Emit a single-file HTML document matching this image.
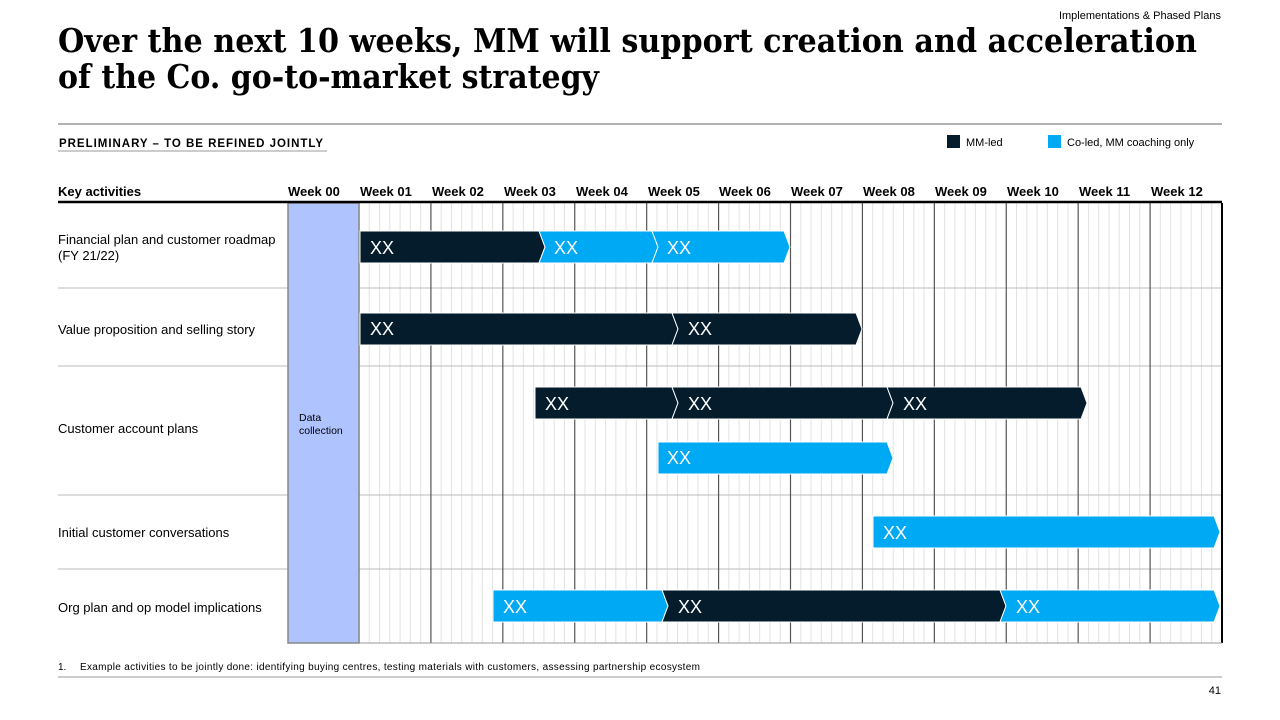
<!DOCTYPE html>
<html><head><meta charset="utf-8"><style>
html,body{margin:0;padding:0;background:#fff;width:1280px;height:720px;overflow:hidden}
svg{display:block}
.s{font-family:"Liberation Sans",Arial,sans-serif}
.t{font-family:"DejaVu Serif","Liberation Serif",serif;font-weight:bold;font-size:33px;fill:#000}
.wk{font-family:"Liberation Sans",Arial,sans-serif;font-weight:bold;font-size:13px;fill:#000}
.lb{font-family:"Liberation Sans",Arial,sans-serif;font-size:13px;fill:#000}
.xx{font-family:"Liberation Sans",Arial,sans-serif;font-size:18px;fill:#fff}
</style></head><body>
<svg id="c" width="1280" height="720" viewBox="0 0 1280 720" xmlns="http://www.w3.org/2000/svg">
<text x="1221" y="19" text-anchor="end" class="s" font-size="11">Implementations &amp; Phased Plans</text>
<text x="58" y="52" class="t" textLength="1139" lengthAdjust="spacingAndGlyphs">Over the next 10 weeks, MM will support creation and acceleration</text>
<text x="58" y="88" class="t" textLength="541" lengthAdjust="spacingAndGlyphs">of the Co. go-to-market strategy</text>
<line x1="58" y1="124" x2="1222" y2="124" stroke="#999" stroke-width="1.5"/>
<text x="59" y="147" class="s" font-size="11.5" font-weight="bold" letter-spacing="1" textLength="265">PRELIMINARY – TO BE REFINED JOINTLY</text>
<line x1="58" y1="151" x2="327" y2="151" stroke="#999" stroke-width="1"/>
<rect x="947" y="135" width="13" height="13" fill="#051c2c"/>
<text x="966" y="146" class="s" font-size="11">MM-led</text>
<rect x="1048" y="135" width="13" height="13" fill="#00a9f4"/>
<text x="1067" y="146" class="s" font-size="11">Co-led, MM coaching only</text>
<text x="58" y="196" class="wk">Key activities</text>
<text x="288" y="196" class="wk">Week 00</text><text x="360" y="196" class="wk">Week 01</text>
<text x="432" y="196" class="wk">Week 02</text><text x="504" y="196" class="wk">Week 03</text>
<text x="576" y="196" class="wk">Week 04</text><text x="648" y="196" class="wk">Week 05</text>
<text x="719" y="196" class="wk">Week 06</text><text x="791" y="196" class="wk">Week 07</text>
<text x="863" y="196" class="wk">Week 08</text><text x="935" y="196" class="wk">Week 09</text>
<text x="1007" y="196" class="wk">Week 10</text><text x="1079" y="196" class="wk">Week 11</text>
<text x="1151" y="196" class="wk">Week 12</text>
<g id="grid"></g>
<rect x="288" y="203" width="71" height="440" fill="#afc3ff" stroke="#888" stroke-width="1.5"/>
<line x1="58" y1="202" x2="1222" y2="202" stroke="#000" stroke-width="2.5"/>
<text x="299" y="421" class="s" font-size="10.5">Data</text>
<text x="299" y="434" class="s" font-size="10.5">collection</text>
<text x="58" y="244" class="lb">Financial plan and customer roadmap</text>
<text x="58" y="260" class="lb">(FY 21/22)</text>
<text x="58" y="334" class="lb">Value proposition and selling story</text>
<text x="58" y="433" class="lb">Customer account plans</text>
<text x="58" y="537" class="lb">Initial customer conversations</text>
<text x="58" y="612" class="lb">Org plan and op model implications</text>
<g id="bars" stroke="#fff" stroke-width="1"></g>
<g>
<text x="370" y="254" class="xx">XX</text><text x="554" y="254" class="xx">XX</text><text x="667" y="254" class="xx">XX</text>
<text x="370" y="335" class="xx">XX</text><text x="688" y="335" class="xx">XX</text>
<text x="545" y="410" class="xx">XX</text><text x="688" y="410" class="xx">XX</text><text x="903" y="410" class="xx">XX</text>
<text x="667" y="464" class="xx">XX</text>
<text x="883" y="539" class="xx">XX</text>
<text x="503" y="613" class="xx">XX</text><text x="678" y="613" class="xx">XX</text><text x="1016" y="613" class="xx">XX</text>
</g>
<line x1="58" y1="677" x2="1222" y2="677" stroke="#999" stroke-width="1"/>
<text x="58" y="670" class="s" font-size="10">1.</text>
<text x="80" y="670" class="s" font-size="10" textLength="620">Example activities to be jointly done: identifying buying centres, testing materials with customers, assessing partnership ecosystem</text>
<text x="1221" y="694" text-anchor="end" class="s" font-size="11">41</text>
</svg>
<script>
var NS="http://www.w3.org/2000/svg",g=document.getElementById("grid"),b=document.getElementById("bars");
function el(p,t,a){var e=document.createElementNS(NS,t);for(var k in a)e.setAttribute(k,a[k]);p.appendChild(e);}
var w=(1222-359)/12;
for(var i=0;i<12;i++){var x0=359+i*w;for(var j=1;j<7;j++){var x=x0+j*w/7;el(g,"line",{x1:x,y1:203,x2:x,y2:643,stroke:"#e2e2e2","stroke-width":1});}}
[288,366,495,569].forEach(function(y){el(g,"line",{x1:58,y1:y,x2:1222,y2:y,stroke:"#bbb","stroke-width":1});});
for(var i=0;i<=12;i++){var x=359+i*w;el(g,"line",{x1:x,y1:203,x2:x,y2:643,stroke:i==12?"#000":"#555","stroke-width":i==12?2:1.2});}
el(g,"line",{x1:288,y1:643,x2:1222,y2:643,stroke:"#999","stroke-width":1});
var D="#051c2c",C="#00a9f4";
function seg(a,c,y0,y1,col,notch){var m=(y0+y1)/2,t=6;var pts=[a+","+y0,c+","+y0,(c+t)+","+m,c+","+y1,a+","+y1];if(notch)pts.push((a+t)+","+m);el(b,"polygon",{points:pts.join(" "),fill:col});}
seg(360,539,231,263,D,0);seg(539,652,231,263,C,1);seg(652,784,231,263,C,1);
seg(360,672,313,345,D,0);seg(672,856,313,345,D,1);
seg(535,672,387,419,D,0);seg(672,887,387,419,D,1);seg(887,1081,387,419,D,1);
seg(658,887,442,474,C,0);
seg(873,1214,516,548,C,0);
seg(493,662,590,622,C,0);seg(662,1000,590,622,D,1);seg(1000,1214,590,622,C,1);
</script>
</body></html>
